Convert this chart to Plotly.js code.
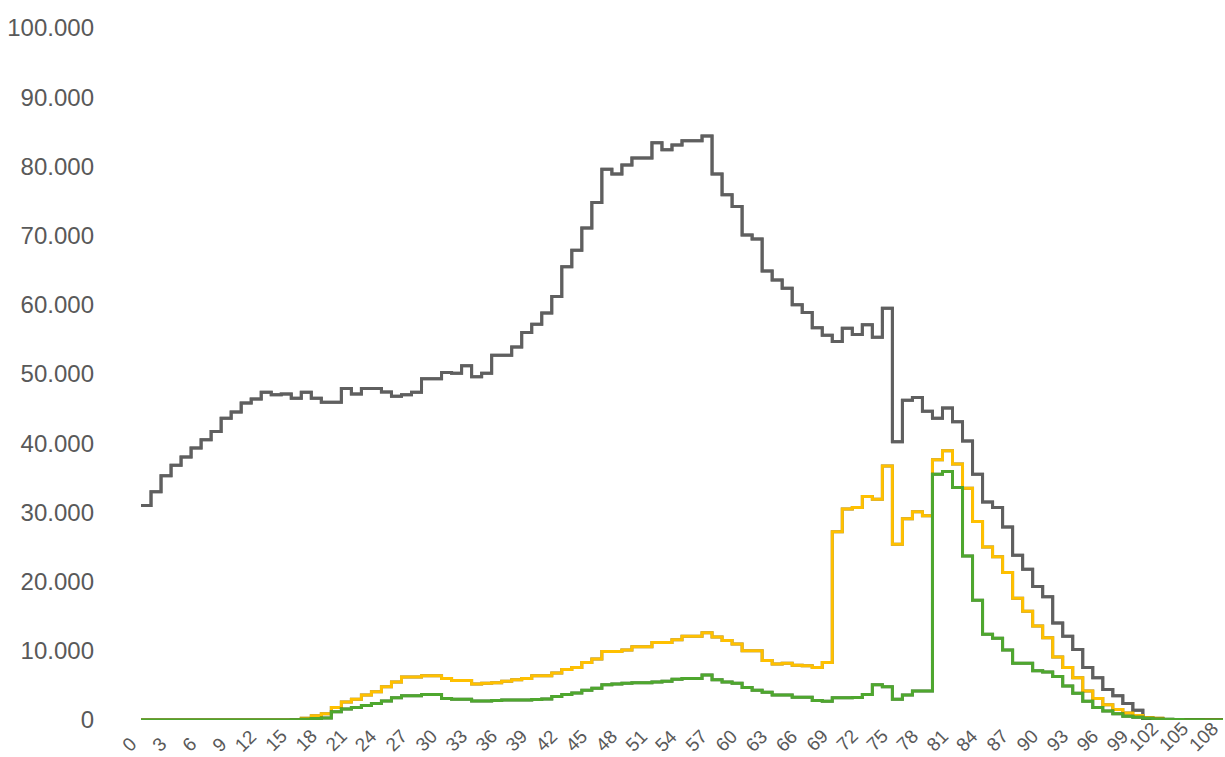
<!DOCTYPE html>
<html>
<head>
<meta charset="utf-8">
<script src="https://cdn.plot.ly/plotly-3.0.1.min.js"></script>
<style>
  html, body { margin: 0; padding: 0; background: #ffffff; }
  #chart { width: 1225px; height: 757px; }
  .scatterlayer path.js-line { filter: drop-shadow(0.8px 0.9px 0.7px rgba(0,0,0,0.55)); }
</style>
</head>
<body>
<div id="chart"></div>
<script>
// Categories (x positions 0..108)
var categories = [
  0,1,2,3,4,5,6,7,8,9,10,11,12,13,14,15,16,17,18,19,20,
  21,22,23,24,25,26,27,28,29,30,31,32,33,34,35,36,37,38,39,40,
  41,42,43,44,45,46,47,48,49,50,51,52,53,54,55,56,57,58,59,60,
  61,62,63,64,65,66,67,68,69,70,71,72,73,74,75,76,77,78,79,80,
  81,82,83,84,85,86,87,88,89,90,91,92,93,94,95,96,97,98,99,100,
  101,102,103,104,105,106,107,108
];

// Series 1 (dark grey)
var seriesGrey = [
  31000,33000,35300,36800,38000,39300,40500,41700,43600,44500,
  45800,46400,47350,47000,47100,46500,47350,46500,45900,45900,
  47900,47100,47900,47900,47400,46800,47000,47350,49300,49300,
  50200,50100,51200,49600,50100,52700,52700,53900,56000,57200,
  58800,61200,65500,67900,71100,74800,79600,78900,80200,81200,
  81200,83400,82400,83100,83700,83700,84400,78900,75900,74200,
  70100,69500,64900,63600,62400,60000,58900,56700,55600,54700,
  56600,55700,57100,55300,59500,40200,46200,46600,44600,43600,
  45100,43100,40300,35500,31500,30700,27900,23800,21800,19300,
  17800,14000,12100,10200,7600,6100,4400,3500,2400,1400,
  200,100,0,0,0,0,0,0,0
];

// Series 2 (gold)
var seriesGold = [
  0,0,0,0,0,0,0,0,0,0,
  0,0,0,0,0,0,250,600,900,1800,
  2600,3000,3600,4100,4800,5500,6200,6200,6400,6400,
  6000,5700,5700,5200,5300,5400,5600,5800,6000,6400,
  6400,6800,7300,7600,8300,8800,9900,9900,10100,10600,
  10600,11200,11200,11600,12100,12100,12600,12000,11500,11000,
  10000,10000,8600,8100,8200,7900,7850,7600,8300,27200,
  30500,30700,32300,31900,36700,25400,29100,30100,29500,37600,
  38900,37000,33500,28700,25000,23600,21300,17600,15700,13600,
  11900,9100,7600,6100,4200,3100,2200,1500,1000,650,
  350,250,80,30,0,0,0,0,0
];

// Series 3 (green)
var seriesGreen = [
  0,0,0,0,0,0,0,0,0,0,
  0,0,0,0,0,50,100,200,300,1200,
  1600,1800,2100,2400,2750,3200,3500,3500,3700,3700,
  3100,3000,3000,2750,2750,2800,2900,2900,2900,2950,
  3050,3400,3700,3900,4300,4600,5100,5200,5300,5400,
  5400,5500,5600,5900,6000,6000,6500,5800,5500,5300,
  4700,4300,4000,3600,3600,3300,3300,2800,2700,3200,
  3200,3250,3700,5100,4800,3000,3600,4200,4200,35500,
  35900,33600,23700,17300,12400,11800,10100,8200,8200,7100,
  6950,6300,4900,3850,2700,1800,1300,900,550,400,
  250,150,100,60,30,20,10,0,0
];

// Tick labels
var xTickVals = [0,3,6,9,12,15,18,21,24,27,30,33,36,39,42,45,48,51,54,57,60,63,66,69,72,75,78,81,84,87,90,93,96,99,102,105,108];
var xTickText = ["0","3","6","9","12","15","18","21","24","27","30","33","36","39","42","45","48","51","54","57","60","63","66","69","72","75","78","81","84","87","90","93","96","99","102","105","108"];
var yTickVals = [0,10000,20000,30000,40000,50000,60000,70000,80000,90000,100000];

function mk(y, color) {
  return {
    x: categories, y: y, type: 'scatter', mode: 'lines',
    line: { shape: 'hv', color: color, width: 3 },
    hoverinfo: 'skip', showlegend: false
  };
}

var data = [
  mk(seriesGrey, '#5f5f5f'),
  mk(seriesGold, '#FFC000'),
  mk(seriesGreen, '#4EA72E')
];

// Rotated category labels placed on the x axis scale
var xLabelAnns = xTickVals.map(function (v, i) {
  return {
    x: v, xref: 'x', y: 0, yref: 'paper',
    text: xTickText[i], showarrow: false, textangle: -45,
    xanchor: 'right', yanchor: 'bottom', yshift: -37, xshift: 1,
    font: { size: 19, color: '#595959', family: 'Liberation Sans, Arial, sans-serif' },
    borderpad: 0
  };
});

var layout = {
  width: 1225, height: 757,
  margin: { l: 141, r: 2, t: 28, b: 37, pad: 0 },
  paper_bgcolor: '#ffffff', plot_bgcolor: '#ffffff',
  separators: ',.',
  showlegend: false,
  font: { family: 'Liberation Sans, Arial, sans-serif', color: '#595959' },
  xaxis: {
    range: [0, 108], tickmode: 'array', tickvals: xTickVals,
    showticklabels: false,
    showgrid: false, zeroline: false, showline: false, ticks: '',
    automargin: false, fixedrange: true
  },
  yaxis: {
    range: [0, 100000], tickmode: 'array', tickvals: yTickVals, tickformat: ',d',
    tickfont: { size: 24, color: '#595959' },
    showgrid: false, zeroline: false, showline: false, ticks: '',
    ticklabelstandoff: 46,
    automargin: false, fixedrange: true
  },
  annotations: xLabelAnns
};

Plotly.newPlot('chart', data, layout, { staticPlot: true, displayModeBar: false });
</script>
</body>
</html>
